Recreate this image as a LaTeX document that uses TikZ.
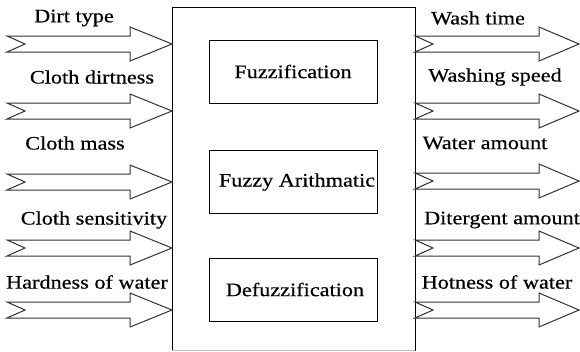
\documentclass[tikz,border=0pt]{standalone}
\usepackage{fontspec}
\setmainfont[FakeStretch=1.17,FakeBold=0.5]{Liberation Serif}
\begin{document}
\begin{tikzpicture}[x=1pt,y=-1pt,
  lbl/.style={inner sep=0pt,font=\fontsize{19}{22}\selectfont},
  inbox/.style={draw,line width=1pt,minimum width=168pt,minimum height=63pt,inner sep=0pt,font=\fontsize{19}{22}\selectfont},
  barrow/.style={draw=black!80,line width=1pt,fill=white,line join=miter}]
\useasboundingbox (0,0) rectangle (580,351);
% main box
\draw[line width=1pt] (172,351) -- (172,7) coordinate (mtl) -- (415,7) coordinate (mtr) -- (415,351);
\draw[black!25,line width=0.8pt] (172,350) -- (415,350);
% inner boxes
\node[inbox] (fuz) at (293,71.5) {Fuzzification};
\node[inbox] (ari) at (293,182) {\hspace*{8pt}Fuzzy Arithmatic};
\node[inbox] (def) at (293,289.5) {\hspace*{4pt}Defuzzification};
% left arrows: tail at x=7, tip at x=172
\foreach \n/\y in {l1/44,l2/111,l3/182,l4/248,l5/310}{
  \coordinate (\n s) at (7,\y);
  \coordinate (\n t) at (172,\y);
  \draw[barrow] (\n s) ++(0,-8) -- ++(123,0) -- ++(0,-9) -- (\n t) -- ++(-42,17) -- ++(0,-9) -- ++(-123,0) -- ++(18,-8) -- cycle;
}
% right arrows: tail at x=415, tip at x=579
\foreach \n/\y in {r1/44,r2/111,r3/181,r4/248,r5/310}{
  \coordinate (\n s) at (415,\y);
  \coordinate (\n t) at (579,\y);
  \draw[barrow] (\n s) ++(0,-8) -- ++(124,0) -- ++(0,-9) -- (\n t) -- ++(-40,17) -- ++(0,-9) -- ++(-124,0) -- ++(18,-8) -- cycle;
}
% labels
\node[lbl] (t1) at (74,18) {Dirt type};
\node[lbl] (t2) at (92,77) {Cloth dirtness};
\node[lbl] (t3) at (75,143) {Cloth mass};
\node[lbl] (t4) at (94,220) {Cloth sensitivity};
\node[lbl] (t5) at (87,282) {Hardness of water};
\node[lbl] (u1) at (478,18) {Wash time};
\node[lbl] (u2) at (495,77) {Washing speed};
\node[lbl] (u3) at (485,143) {Water amount};
\node[lbl] (u4) at (502,220) {Ditergent amount};
\node[lbl] (u5) at (497,282) {Hotness of water};
\end{tikzpicture}
\end{document}
